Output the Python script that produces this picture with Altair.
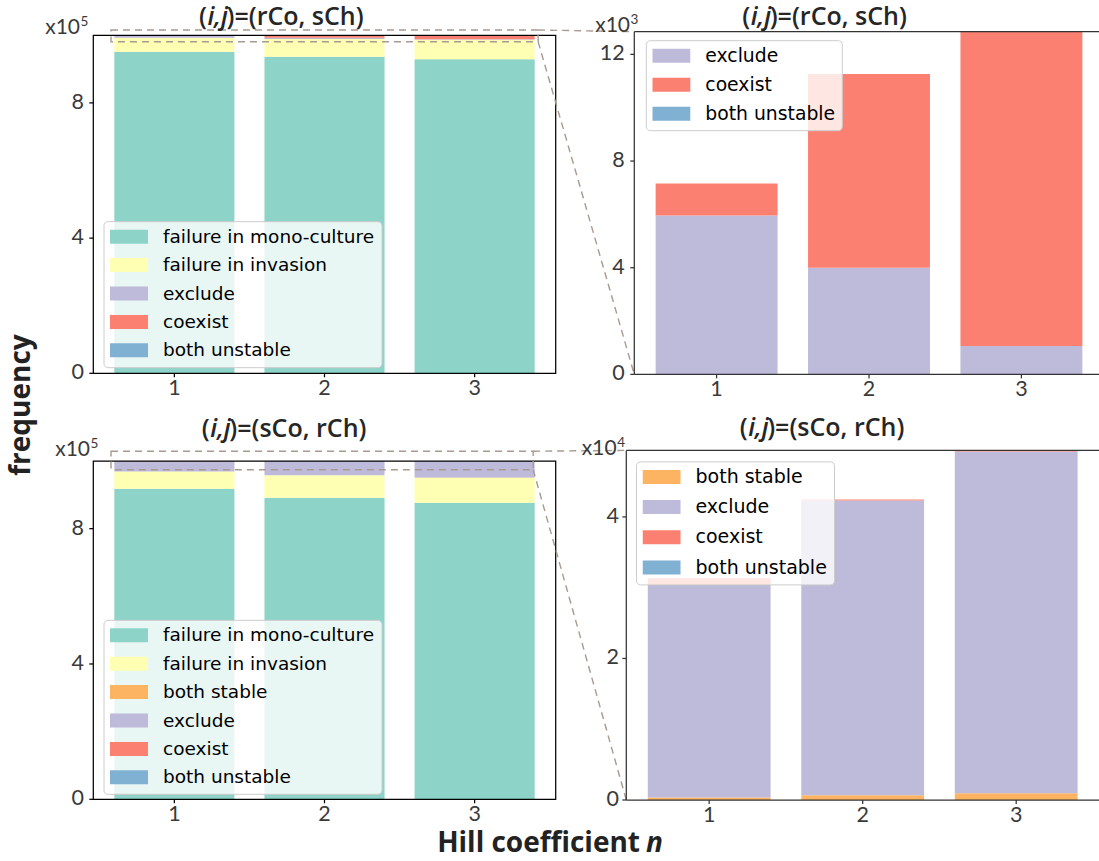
import altair as alt
import pandas as pd

# ---------------------------------------------------------------- data
HILL_N = [1, 2, 3]

OUTCOMES = ["failure in mono-culture", "failure in invasion", "both stable",
            "exclude", "coexist", "both unstable"]
OUTCOME_COLORS = ["#8dd3c7", "#ffffb3", "#fdb462", "#bebada", "#fb8072", "#80b1d3"]
FAILURES = ["failure in mono-culture", "failure in invasion"]

# (i,j) = (rCo, sCh): counts out of 10^6 parameter sets
RS_MONO = [951500, 936400, 929000]
RS_INVASION = [41340, 52340, 58150]
RS_EXCLUDE = [5960, 4000, 1065]
RS_COEXIST = [1200, 7260, 11785]
RS_UNSTABLE = [0, 0, 0]

# (i,j) = (sCo, rCh)
SR_MONO = [918100, 891200, 876700]
SR_INVASION = [50550, 66330, 73900]
SR_STABLE = [340, 680, 960]
SR_EXCLUDE = [30060, 41640, 48290]
SR_COEXIST = [950, 150, 150]
SR_UNSTABLE = [0, 0, 0]

Y_TICKS_FULL = [0, 400000, 800000]
Y_TICKS_RS_ZOOM = [0, 4000, 8000, 12000]
Y_TICKS_SR_ZOOM = [0, 20000, 40000]

# ---------------------------------------------------------------- layout
CANVAS_W, CANVAS_H = 1099, 861
X_DOMAIN = [0.46, 3.54]
BAR_HALF = 0.4

# plot boxes (left, top, right, bottom) in page pixels
BOX_TL = (93.3, 35.3, 555.7, 373.3)
BOX_TR = (634.3, 31.7, 1103.7, 374.4)
BOX_BL = (93.3, 461.0, 555.7, 799.3)
BOX_BR = (626.3, 450.4, 1099.1, 800.0)

TICK_FONT = "Lato"
HEAD_FONT = "Open Sans"
LEGEND_FONT = "DejaVu Sans"
INK = "#262626"
TICK_INK = "#3a3a3a"
DASH = "#a89a90"
TICK_LEN = 4


def table(pairs, keep=None):
    rows = []
    for name, counts in pairs:
        if keep is not None and name not in keep:
            continue
        for n, c in zip(HILL_N, counts):
            rows.append({"n": n, "outcome": name, "k": OUTCOMES.index(name), "count": c})
    return pd.DataFrame(rows)


def one_row(**kw):
    return pd.DataFrame([kw])


RS_PAIRS = [("failure in mono-culture", RS_MONO), ("failure in invasion", RS_INVASION),
            ("exclude", RS_EXCLUDE), ("coexist", RS_COEXIST), ("both unstable", RS_UNSTABLE)]
SR_PAIRS = [("failure in mono-culture", SR_MONO), ("failure in invasion", SR_INVASION),
            ("both stable", SR_STABLE), ("exclude", SR_EXCLUDE), ("coexist", SR_COEXIST),
            ("both unstable", SR_UNSTABLE)]

rs_all = table(RS_PAIRS)
sr_all = table(SR_PAIRS)
rs_zoom = table(RS_PAIRS, keep=[o for o in OUTCOMES if o not in FAILURES])
sr_zoom = table(SR_PAIRS, keep=[o for o in OUTCOMES if o not in FAILURES])


def axes_marks(box, exp, y_ticks, line, y_label_gap):
    """Tick marks and tick labels placed through the panel's own scales."""
    x0, y0, x1, y1 = box
    xt = pd.DataFrame({"v": HILL_N, "t": [str(n) for n in HILL_N]})
    yt = pd.DataFrame({"v": y_ticks, "t": [f"{v / 10 ** exp:g}" for v in y_ticks]})
    text_style = dict(font=TICK_FONT, fontSize=21.5, fontWeight="normal", color=TICK_INK)
    x_ticks = alt.Chart(xt).mark_rule(color=line, strokeWidth=1.25).encode(
        x=alt.X("v:Q", axis=None), y=alt.YValue(y1), y2=alt.Y2Value(y1 + TICK_LEN))
    x_labels = alt.Chart(xt).mark_text(align="center", baseline="alphabetic", **text_style).encode(
        x=alt.X("v:Q", axis=None), y=alt.YValue(y1 + 22), text="t:N")
    y_tick_marks = alt.Chart(yt).mark_rule(color=line, strokeWidth=1.25).encode(
        y=alt.Y("v:Q", axis=None), x=alt.XValue(x0 - TICK_LEN), x2=alt.X2Value(x0))
    y_labels = alt.Chart(yt).mark_text(align="right", baseline="middle", **text_style).encode(
        y=alt.Y("v:Q", axis=None), x=alt.XValue(x0 - y_label_gap), text="t:N")
    return [x_ticks, x_labels, y_tick_marks, y_labels]


def stacked_panel(df, box, exp, y_ticks, legend_xy, legend_size, row_gap, framed, label_gap):
    x0, y0, x1, y1 = box
    present = set(df["outcome"])
    names = [o for o in OUTCOMES if o in present]
    colors = [OUTCOME_COLORS[OUTCOMES.index(o)] for o in names]
    ymax = float(df.groupby("n")["count"].sum().max())
    line = "black" if framed else "#333333"
    xs = alt.Scale(domain=X_DOMAIN, range=[x0, x1], nice=False, zero=False)
    ys = alt.Scale(domain=[0, ymax], range=[y1, y0], nice=False, zero=False)
    bars = (
        alt.Chart(df)
        .transform_calculate(lo=f"datum.n - {BAR_HALF}", hi=f"datum.n + {BAR_HALF}")
        .transform_stack(stack="count", groupby=["n"], as_=["base", "top"],
                         sort=[alt.SortField("k", order="ascending")])
        .mark_rect()
        .encode(
            x=alt.X("lo:Q", scale=xs, axis=None),
            x2="hi:Q",
            y=alt.Y("base:Q", scale=ys, axis=None),
            y2="top:Q",
            color=alt.Color(
                "outcome:N",
                scale=alt.Scale(domain=names, range=colors),
                legend=alt.Legend(
                    orient="none", legendX=legend_xy[0], legendY=legend_xy[1], title=None,
                    fillColor="rgba(255,255,255,0.8)", strokeColor="#cccccc", cornerRadius=4,
                    padding=6.5, symbolType="M-1,-0.368L1,-0.368L1,0.368L-1,0.368Z",
                    symbolSize=1444, symbolStrokeWidth=0, symbolOpacity=1,
                    labelFont=LEGEND_FONT, labelFontSize=legend_size, labelColor="black",
                    labelOffset=15, labelLimit=400, clipHeight=18, rowPadding=row_gap - 18,
                ),
            ),
        )
    )
    src = one_row(a=0)
    if framed:
        frame = [alt.Chart(src).mark_rect(fillOpacity=0, stroke="black", strokeWidth=1.25).encode(
            x=alt.XDatum(X_DOMAIN[0], axis=None), x2=alt.X2Datum(X_DOMAIN[1]),
            y=alt.YDatum(0, axis=None), y2=alt.Y2Datum(ymax))]
    else:
        spine = dict(color=line, strokeWidth=1.25)
        frame = [
            alt.Chart(src).mark_rule(**spine).encode(
                x=alt.XDatum(X_DOMAIN[0], axis=None), x2=alt.X2Datum(X_DOMAIN[1]),
                y=alt.YDatum(ymax, axis=None)),
            alt.Chart(src).mark_rule(**spine).encode(
                x=alt.XDatum(X_DOMAIN[0], axis=None), x2=alt.X2Datum(X_DOMAIN[1]),
                y=alt.YDatum(0, axis=None)),
            alt.Chart(src).mark_rule(**spine).encode(
                x=alt.XDatum(X_DOMAIN[0], axis=None),
                y=alt.YDatum(0, axis=None), y2=alt.Y2Datum(ymax)),
        ]
    return [bars, *frame, *axes_marks(box, exp, y_ticks, line, label_gap)]


def zoom_marker(rect, target_box):
    """Dashed box on a full panel plus the two lines leading to its zoomed panel."""
    rx0, rx1, ry0, ry1 = rect
    tx0, ty0, _, ty1 = target_box
    src = one_row(a=0)
    dash = dict(strokeWidth=1.4, strokeDash=[7, 5])
    box = alt.Chart(src).mark_rect(fillOpacity=0, stroke=DASH, **dash).encode(
        x=alt.XDatum(rx0, axis=None), x2=alt.X2Datum(rx1),
        y=alt.YDatum(ry0, axis=None), y2=alt.Y2Datum(ry1))
    upper = alt.Chart(src).mark_rule(color=DASH, **dash).encode(
        x=alt.XDatum(rx1, axis=None), y=alt.YDatum(ry1, axis=None),
        x2=alt.X2Value(tx0), y2=alt.Y2Value(ty0))
    lower = alt.Chart(src).mark_rule(color=DASH, **dash).encode(
        x=alt.XDatum(rx1, axis=None), y=alt.YDatum(ry0, axis=None),
        x2=alt.X2Value(tx0), y2=alt.Y2Value(ty1))
    return [box, upper, lower]


def label(text, x, y, size, font=HEAD_FONT, weight="normal", style="normal",
          align="left", baseline="alphabetic", angle=0, color=INK):
    return alt.Chart(one_row(t=text)).mark_text(
        font=font, fontSize=size, fontWeight=weight, fontStyle=style, align=align,
        baseline=baseline, angle=angle, color=color,
    ).encode(x=alt.XValue(x), y=alt.YValue(y), text="t:N")


def panel_title(rest, x, y):
    return [
        label("(", x, y, 25, weight=600, align="right"),
        label("i,j", x + 0.5, y, 25, weight=600, style="italic"),
        label(rest, x + 19.5, y, 25, weight=600),
    ]


def multiplier(exp, x, y):
    return [
        label("x10", x, y, 21, font=TICK_FONT, align="right", color=TICK_INK),
        label(str(exp), x + 0.5, y - 8, 13.5, font=TICK_FONT, color=TICK_INK),
    ]


tl = alt.layer(*stacked_panel(rs_all, BOX_TL, 5, Y_TICKS_FULL, (103.5, 221.2), 18.5, 27.4, True, 9.3),
               *zoom_marker((0.578, 3.423, 981100, 1015700), BOX_TR))
tr = alt.layer(*stacked_panel(rs_zoom, BOX_TR, 3, Y_TICKS_RS_ZOOM, (645.8, 40.2), 18.8, 28.0, False, 9.5))
bl = alt.layer(*stacked_panel(sr_all, BOX_BL, 5, Y_TICKS_FULL, (103.5, 619.8), 18.5, 27.4, True, 9.3),
               *zoom_marker((0.578, 3.39, 974300, 1029000), BOX_BR))
br = alt.layer(*stacked_panel(sr_zoom, BOX_BR, 4, Y_TICKS_SR_ZOOM, (636.0, 461.4), 19.0, 29.2, False, 7.3))

texts = (
    panel_title(")=(rCo, sCh)", 207.0, 25.0)
    + panel_title(")=(rCo, sCh)", 750.2, 24.5)
    + panel_title(")=(sCo, rCh)", 209.8, 437.0)
    + panel_title(")=(sCo, rCh)", 747.7, 435.5)
    + multiplier(5, 80.0, 34.0)
    + multiplier(3, 630.0, 31.7)
    + multiplier(5, 90.0, 456.0)
    + multiplier(4, 616.7, 454.5)
    + [
        label("frequency", 22, 405, 28, weight="bold", align="center", baseline="middle",
              angle=270, color="#222222"),
        label("Hill coefficient", 640, 852, 28, weight="bold", align="right", color="#222222"),
        label("n", 646, 852, 28, weight="bold", style="italic", color="#222222"),
    ]
)

chart = (
    alt.layer(tl, tr, bl, br, *texts)
    .resolve_scale(x="independent", y="independent", color="independent")
    .resolve_legend(color="independent")
    .properties(width=CANVAS_W, height=CANVAS_H, padding=0,
                autosize=alt.AutoSizeParams(type="none"))
    .configure_view(stroke=None)
)

chart.save("out.html", embed_options={"renderer": "svg", "actions": False})
